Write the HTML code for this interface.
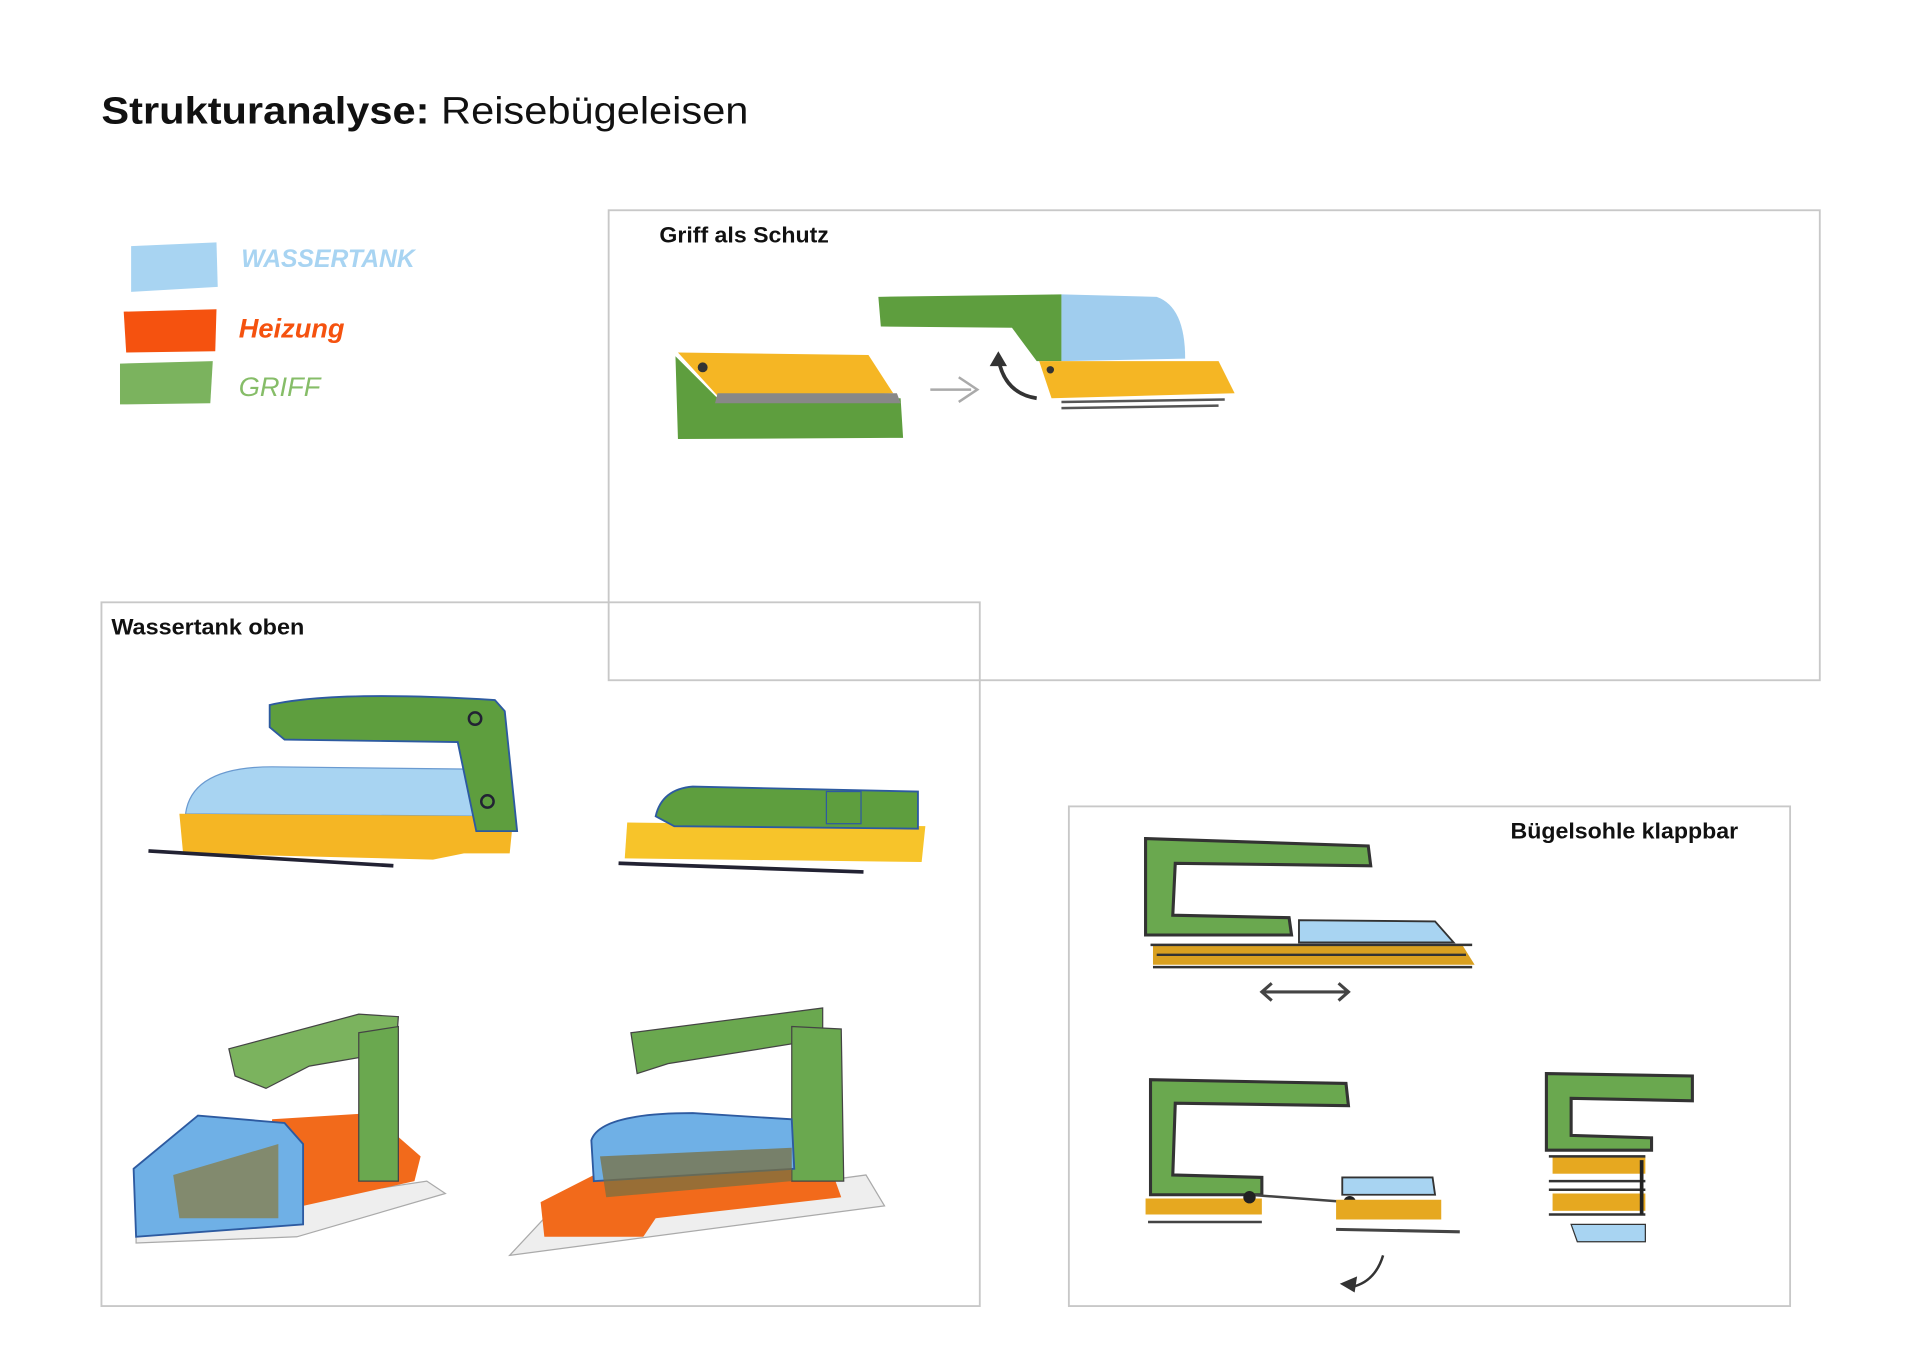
<!DOCTYPE html>
<html><head><meta charset="utf-8"><style>
html,body{margin:0;padding:0;background:#fff;width:1920px;height:1358px;overflow:hidden}
svg{display:block}
text{font-family:"Liberation Sans",sans-serif}
</style></head><body>
<svg width="1920" height="1358" viewBox="0 0 1552 1098" preserveAspectRatio="none" xmlns="http://www.w3.org/2000/svg">
<rect width="1552" height="1098" fill="#fff"/>
<text x="82" y="100" font-size="31" fill="#111" textLength="523" lengthAdjust="spacingAndGlyphs"><tspan font-weight="bold">Strukturanalyse:</tspan> Reisebügeleisen</text>

<!-- legend -->
<path d="M106 199 L175 196 L176 232 L106 236 Z" fill="#a8d4f2"/>
<text x="195" y="216" font-size="20" font-style="italic" fill="#a8d4f2" font-weight="bold">WASSERTANK</text>
<path d="M100 252 L175 250 L174 284 L102 285 Z" fill="#f5520f"/>
<text x="193" y="273" font-size="22" font-style="italic" fill="#f5520f" font-weight="bold">Heizung</text>
<path d="M97 294 L172 292 L170 326 L97 327 Z" fill="#7bb35e"/>
<text x="193" y="320" font-size="22" font-style="italic" fill="#86bd68">GRIFF</text>

<!-- boxes -->
<g fill="none" stroke="#c8c8c8" stroke-width="1.5">
<rect x="492" y="170" width="979" height="380"/>
<rect x="82" y="487" width="710" height="569"/>
<rect x="864" y="652" width="583" height="404"/>
</g>
<g font-size="18" font-weight="bold" fill="#111">
<text x="533" y="196" textLength="137" lengthAdjust="spacingAndGlyphs">Griff als Schutz</text>
<text x="90" y="513" textLength="156" lengthAdjust="spacingAndGlyphs">Wassertank oben</text>
<text x="1221" y="678" textLength="184" lengthAdjust="spacingAndGlyphs">Bügelsohle klappbar</text>
</g>

<!-- box1 sketch -->
<path d="M546 288 L548 355 L730 354 L728 322 L580 322 Z" fill="#5e9e3e"/>
<path d="M548 285 L702 287 L722 318 L580 320 Z" fill="#f5b624"/>
<path d="M580 318 L725 318 L728 326 L578 326 Z" fill="#888"/>
<circle cx="568" cy="297" r="4" fill="#333"/>
<path d="M752 315 L785 315 M775 305 L790 315 L775 325" stroke="#aaa" stroke-width="2" fill="none"/>
<path d="M838 322 Q812 318 807 290" stroke="#333" stroke-width="3" fill="none"/>
<path d="M800 296 L807 284 L814 296 Z" fill="#333"/>
<path d="M710 240 L858 238 L858 292 L838 292 L818 265 L712 264 Z" fill="#5e9e3e"/>
<path d="M858 238 L935 240 Q958 248 958 290 L858 292 Z" fill="#a0cdee"/>
<path d="M840 292 L985 292 L998 318 L850 322 Z" fill="#f5b624"/>
<circle cx="849" cy="299" r="3" fill="#333"/>
<path d="M858 325 L990 323 M858 330 L985 328" stroke="#555" stroke-width="2"/>

<!-- box2 top-left iron -->
<path d="M150 658 Q155 620 220 620 L390 622 L392 660 Z" fill="#a8d4f2" stroke="#6a9ad0"/>
<path d="M145 658 L415 660 L412 690 L375 690 L350 695 L148 690 Z" fill="#f5b624"/>
<path d="M218 570 Q270 558 400 566 L408 575 L418 672 L385 672 L370 600 L230 598 L218 588 Z" fill="#5e9e3e" stroke="#2d5aa0" stroke-width="1.5"/>
<circle cx="384" cy="581" r="5" fill="none" stroke="#223" stroke-width="2"/>
<circle cx="394" cy="648" r="5" fill="none" stroke="#223" stroke-width="2"/>
<path d="M120 688 L318 700" stroke="#223" stroke-width="3"/>
<!-- top-right -->
<path d="M507 665 L748 668 L745 697 L505 694 Z" fill="#f7c42a"/>
<path d="M530 660 Q535 638 560 636 L742 640 L742 670 L545 668 Z" fill="#5e9e3e" stroke="#2d5aa0" stroke-width="1.5"/>
<rect x="668" y="640" width="28" height="26" fill="none" stroke="#2d5aa0"/>
<path d="M500 698 L698 705" stroke="#223" stroke-width="3"/>

<!-- bottom-left -->
<path d="M110 1005 L240 1000 L360 965 L345 955 L110 990 Z" fill="#eee" stroke="#aaa"/>
<path d="M220 905 L300 900 L340 935 L335 955 L245 975 L215 945 Z" fill="#f26a1b"/>
<path d="M185 848 L290 820 L322 822 L320 850 L250 862 L215 880 L190 870 Z" fill="#7bb35e" stroke="#444" stroke-width="1"/>
<path d="M290 835 L322 830 L322 955 L290 955 Z" fill="#6aa84f" stroke="#444" stroke-width="1"/>
<path d="M108 945 L160 902 L230 908 L245 925 L245 990 L110 1000 Z" fill="#6fb0e6" stroke="#2d5aa0" stroke-width="1.5"/>
<path d="M140 950 L225 925 L225 985 L145 985 Z" fill="#8a7a3a" opacity="0.7"/>
<!-- bottom-right -->
<path d="M412 1015 L715 975 L700 950 L440 985 Z" fill="#eee" stroke="#aaa"/>
<path d="M437 972 L490 945 L670 940 L680 968 L530 985 L520 1000 L440 1000 Z" fill="#f26a1b"/>
<path d="M510 835 L665 815 L665 840 L540 860 L515 868 Z" fill="#6aa84f" stroke="#444" stroke-width="1"/>
<path d="M640 830 L680 832 L682 955 L640 955 Z" fill="#6aa84f" stroke="#444" stroke-width="1"/>
<path d="M478 922 Q485 900 560 900 L640 905 L642 945 L480 955 Z" fill="#6fb0e6" stroke="#2d5aa0" stroke-width="1.5"/>
<path d="M485 935 L640 928 L640 955 L490 968 Z" fill="#7a7040" opacity="0.75"/>

<!-- box3 top -->
<path d="M926 678 L1106 684 L1108 700 L950 698 L948 740 L1042 742 L1044 756 L926 756 Z" fill="#6aa84f" stroke="#333" stroke-width="2.5"/>
<path d="M1050 744 L1160 745 L1175 762 L1050 762 Z" fill="#a8d4f2" stroke="#333" stroke-width="1.5"/>
<path d="M932 764 L1182 764 L1192 780 L932 780 Z" fill="#d9a020"/>
<path d="M930 764 L1190 764 M935 772 L1185 772 M932 782 L1190 782" stroke="#333" stroke-width="2"/>
<path d="M1022 802 L1088 802 M1028 795 L1020 802 L1028 809 M1082 795 L1090 802 L1082 809" stroke="#444" stroke-width="2.5" fill="none"/>
<!-- box3 bottom-left -->
<path d="M930 873 L1088 876 L1090 894 L950 892 L948 950 L1020 952 L1020 966 L930 966 Z" fill="#6aa84f" stroke="#333" stroke-width="2.5"/>
<path d="M926 969 L1020 969 L1020 982 L926 982 Z" fill="#e6a820"/>
<path d="M928 988 L1020 988 M1010 966 L1090 972" stroke="#444" stroke-width="2"/>
<circle cx="1010" cy="968" r="5" fill="#222"/><circle cx="1091" cy="972" r="5" fill="#222"/>
<path d="M1085 952 L1158 952 L1160 966 L1085 966 Z" fill="#a8d4f2" stroke="#333" stroke-width="1.5"/>
<path d="M1080 970 L1165 970 L1165 986 L1080 986 Z" fill="#e6a820"/>
<path d="M1080 994 L1180 996" stroke="#444" stroke-width="2.5"/>
<path d="M1118 1015 Q1112 1035 1095 1040" stroke="#333" stroke-width="2" fill="none"/>
<path d="M1083 1038 L1097 1032 L1095 1045 Z" fill="#333"/>
<!-- box3 bottom-right -->
<path d="M1250 868 L1368 870 L1368 890 L1270 888 L1270 918 L1335 920 L1335 930 L1250 930 Z" fill="#6aa84f" stroke="#333" stroke-width="2.5"/>
<rect x="1255" y="935" width="75" height="14" fill="#e6a820"/>
<rect x="1255" y="965" width="75" height="14" fill="#e6a820"/>
<path d="M1252 935 L1330 935 M1252 955 L1330 955 M1252 962 L1330 962 M1252 982 L1330 982" stroke="#333" stroke-width="2"/>
<path d="M1327 938 L1327 982" stroke="#222" stroke-width="3"/>
<path d="M1270 990 L1330 990 L1330 1004 L1275 1004 Z" fill="#a8d4f2" stroke="#333" stroke-width="1"/>
</svg>
</body></html>
